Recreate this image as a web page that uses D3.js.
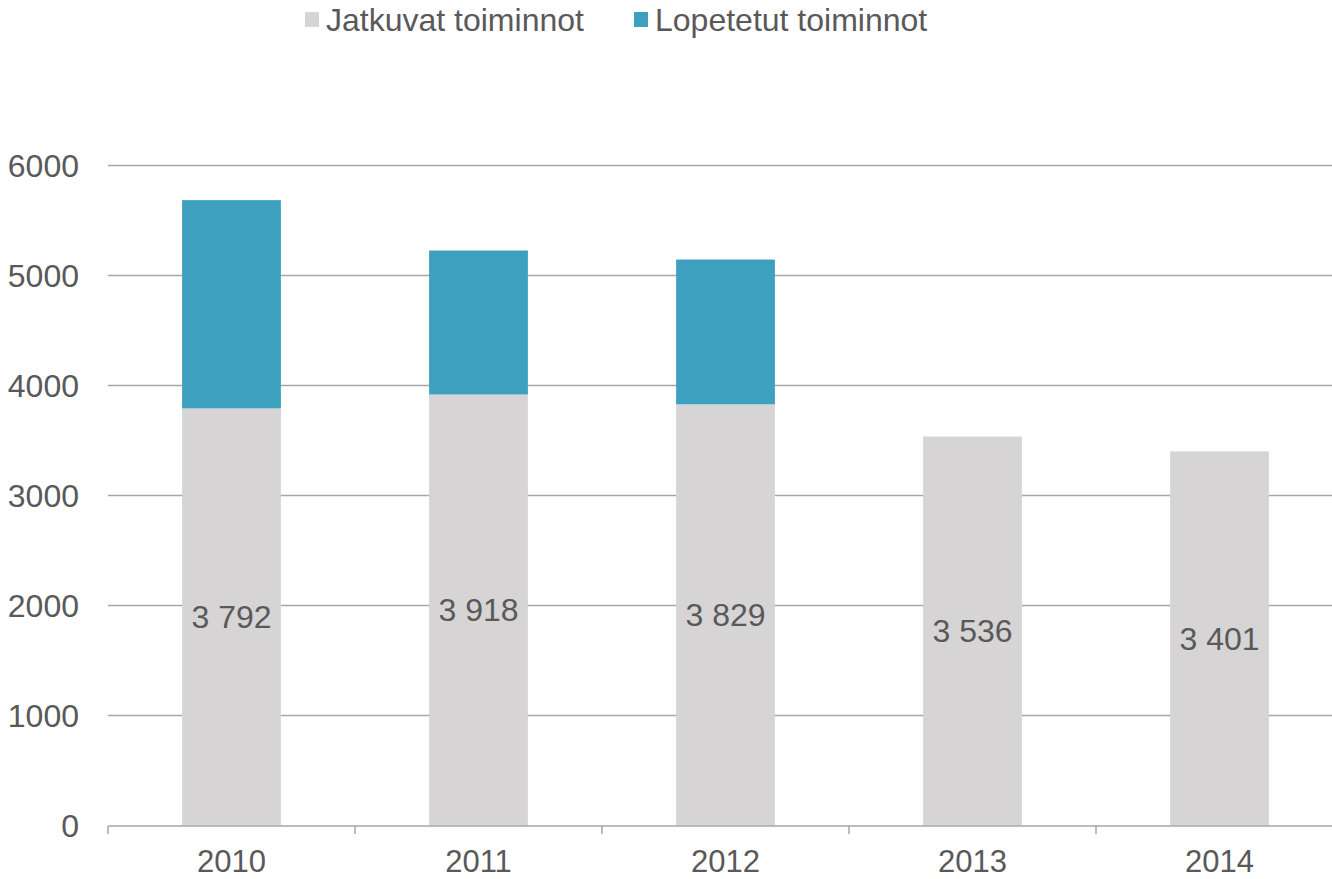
<!DOCTYPE html>
<html>
<head>
<meta charset="utf-8">
<script src="https://cdn.jsdelivr.net/npm/d3@7"></script>
<style>
  body { margin: 0; background: #fff; }
  svg text { font-family: "Liberation Sans", Arial, sans-serif; fill: #595959; }
</style>
</head>
<body>
<div id="chart"></div>
<script>
var years      = ['2010', '2011', '2012', '2013', '2014'];
var jatkuvat   = [3792, 3918, 3829, 3536, 3401];
var lopetetut  = [1893, 1309, 1316, 0, 0];
var yTicks     = [0, 1000, 2000, 3000, 4000, 5000, 6000];
var seriesNames  = ['Jatkuvat toiminnot', 'Lopetetut toiminnot'];
var seriesColors = ['#d6d4d5', '#3da0bf'];

var W = 1332, H = 879;
var svg = d3.select('#chart').append('svg')
  .attr('width', W)
  .attr('height', H);

var x = d3.scaleBand()
  .domain(years)
  .range([108, 1343])
  .paddingInner(0.6)
  .paddingOuter(0.3);

var y = d3.scaleLinear()
  .domain([0, 6000])
  .range([825.5, 165.5]);

/* gridlines */
svg.append('g')
  .selectAll('line')
  .data(yTicks.filter(function (d) { return d > 0; }))
  .join('line')
  .attr('x1', 108)
  .attr('x2', W)
  .attr('y1', function (d) { return y(d); })
  .attr('y2', function (d) { return y(d); })
  .attr('stroke', '#a6a6a6')
  .attr('stroke-width', 1.5);

/* y labels */
svg.append('g')
  .selectAll('text')
  .data(yTicks)
  .join('text')
  .attr('x', 79)
  .attr('y', function (d) { return y(d); })
  .attr('dy', '0.35em')
  .attr('text-anchor', 'end')
  .style('font-size', '32px')
  .text(function (d) { return d; });

var stack = d3.stack().keys([0, 1])
  .value(function (d, k) { return k === 0 ? jatkuvat[d] : lopetetut[d]; });
var layers = stack(d3.range(years.length));

svg.append('g')
  .selectAll('g')
  .data(layers)
  .join('g')
  .attr('fill', function (d, i) { return seriesColors[i]; })
  .selectAll('rect')
  .data(function (d) { return d; })
  .join('rect')
  .attr('x', function (d, i) { return x(years[i]); })
  .attr('width', x.bandwidth())
  .attr('y', function (d) { return y(d[1]); })
  .attr('height', function (d) { return y(d[0]) - y(d[1]); });

/* x axis */
var axis = svg.append('g');
axis.append('line')
  .attr('x1', 108).attr('x2', W)
  .attr('y1', 826).attr('y2', 826)
  .attr('stroke', '#a6a6a6')
  .attr('stroke-width', 1.5);

var step = x.step();
axis.selectAll('line.tick')
  .data(d3.range(years.length + 1))
  .join('line')
  .classed('tick', true)
  .attr('x1', function (i) { return 108 + i * step; })
  .attr('x2', function (i) { return 108 + i * step; })
  .attr('y1', 826).attr('y2', 834)
  .attr('stroke', '#a6a6a6')
  .attr('stroke-width', 1.5);

/* year labels sit right at the bottom edge, keep the text box inside */
axis.selectAll('text')
  .data(years)
  .join('text')
  .attr('x', function (d) { return x(d) + x.bandwidth() / 2; })
  .attr('y', 872)
  .attr('text-anchor', 'middle')
  .style('font-size', '31px')
  .text(function (d) { return d; });

/* data labels, middle of grey segment */
svg.append('g')
  .selectAll('text')
  .data(jatkuvat)
  .join('text')
  .attr('x', function (d, i) { return x(years[i]) + x.bandwidth() / 2; })
  .attr('y', function (d) { return y(d / 2); })
  .attr('dy', '0.35em')
  .attr('text-anchor', 'middle')
  .style('font-size', '32px')
  .text(function (d) { return d3.format(',')(d).replace(',', ' '); });

/* legend */
var legendX = [305, 634];
var legend = svg.append('g')
  .selectAll('g')
  .data(seriesNames)
  .join('g')
  .attr('transform', function (d, i) { return 'translate(' + legendX[i] + ',0)'; });

legend.append('rect')
  .attr('x', 0).attr('y', 12)
  .attr('width', 14).attr('height', 15)
  .attr('fill', function (d, i) { return seriesColors[i]; });

legend.append('text')
  .attr('x', 21)
  .attr('y', 20)
  .attr('dy', '0.35em')
  .style('font-size', '32px')
  .text(function (d) { return d; });
</script>
</body>
</html>
